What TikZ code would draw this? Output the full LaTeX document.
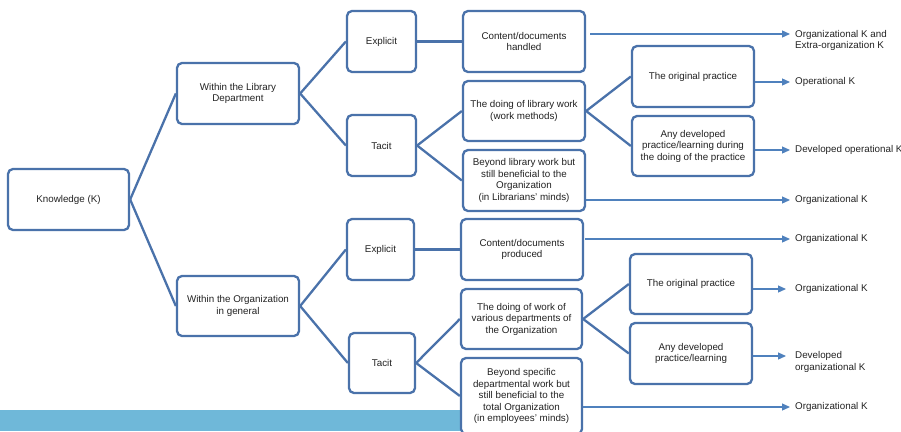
\documentclass[tikz,border=0pt]{standalone}
\usepackage{fontspec}
\setmainfont{Liberation Sans}
\usetikzlibrary{arrows.meta}
\definecolor{boxblue}{HTML}{4A72AA}
\definecolor{arrblue}{HTML}{4F81BD}
\definecolor{barblue}{HTML}{6FB8D9}
\definecolor{txt}{HTML}{222222}
\tikzset{
  kbox/.style={draw=boxblue, line width=2.3pt, rounded corners=5pt, fill=white,
    inner sep=0pt, align=center, text=txt, font=\fontsize{9.8}{11.5}\selectfont},
  link/.style={draw=boxblue, line width=2.3pt},
  arr/.style={draw=arrblue, line width=1.2pt, -{Triangle[length=8pt,width=7pt]}},
  outtxt/.style={anchor=west, inner sep=0pt, align=left, text=txt, font=\fontsize{9.8}{11.5}\selectfont}
}
\begin{document}
\begin{tikzpicture}[x=1pt,y=-1pt]
\useasboundingbox (0,0) rectangle (901,431);
\fill[barblue] (0,410) rectangle (470,431);

\node[kbox, minimum width=121pt, minimum height=61pt] (K) at (68.5,199.5) {Knowledge (K)};
\node[kbox, minimum width=122pt, minimum height=61pt] (L1) at (238,93.5) {Within the Library\\Department};
\node[kbox, minimum width=122pt, minimum height=60pt] (L2) at (238,306) {Within the Organization\\in general};
\node[kbox, minimum width=69pt, minimum height=61pt] (E1) at (381.5,41.5) {Explicit};
\node[kbox, minimum width=69pt, minimum height=61pt] (T1) at (381.5,145.5) {Tacit};
\node[kbox, minimum width=67pt, minimum height=61pt] (E2) at (380.5,249.5) {Explicit};
\node[kbox, minimum width=66pt, minimum height=60pt] (T2) at (382,363) {Tacit};
\node[kbox, minimum width=122pt, minimum height=61pt] (C1) at (524,41.5) {Content/documents\\handled};
\node[kbox, minimum width=122pt, minimum height=60pt] (D1) at (524,111) {The doing of library work\\(work methods)};
\node[kbox, minimum width=122pt, minimum height=61pt] (B1) at (524,180.5) {Beyond library work but\\still beneficial to the\\Organization\\(in Librarians’ minds)};
\node[kbox, minimum width=122pt, minimum height=61pt] (O1) at (693,76.5) {The original practice};
\node[kbox, minimum width=122pt, minimum height=60pt] (A1) at (693,146) {Any developed\\practice/learning during\\the doing of the practice};
\node[kbox, minimum width=122pt, minimum height=61pt] (C2) at (522,249.5) {Content/documents\\produced};
\node[kbox, minimum width=121pt, minimum height=60pt] (D2) at (521.5,319) {The doing of work of\\various departments of\\the Organization};
\node[kbox, minimum width=121pt, minimum height=76pt] (B2) at (521.5,396) {Beyond specific\\departmental work but\\still beneficial to the\\total Organization\\(in employees’ minds)};
\node[kbox, minimum width=122pt, minimum height=60pt] (O2) at (691,284) {The original practice};
\node[kbox, minimum width=122pt, minimum height=61pt] (A2) at (691,353.5) {Any developed\\practice/learning};

\draw[link] (K.east) -- (L1.west);
\draw[link] (K.east) -- (L2.west);
\draw[link] (L1.east) -- (E1.west);
\draw[link] (L1.east) -- (T1.west);
\draw[link] (L2.east) -- (E2.west);
\draw[link] (L2.east) -- (T2.west);
\draw[link] (E1.east) -- (C1.west);
\draw[link] (E2.east) -- (C2.west);
\draw[link] (T1.east) -- (D1.west);
\draw[link] (T1.east) -- (B1.west);
\draw[link] (T2.east) -- (D2.west);
\draw[link] (T2.east) -- (B2.west);
\draw[link] (D1.east) -- (O1.west);
\draw[link] (D1.east) -- (A1.west);
\draw[link] (D2.east) -- (O2.west);
\draw[link] (D2.east) -- (A2.west);

\node[outtxt] (t1) at (795,40.5) {Organizational K and\\Extra-organization K};
\node[outtxt] (t2) at (795,82) {Operational K};
\node[outtxt] (t3) at (795,150) {Developed operational K};
\node[outtxt] (t4) at (795,200) {Organizational K};
\node[outtxt] (t5) at (795,239) {Organizational K};
\node[outtxt] (t6) at (795,289) {Organizational K};
\node[outtxt] (t7) at (795,362) {Developed\\organizational K};
\node[outtxt] (t8) at (795,407) {Organizational K};

\coordinate (s1) at (590,34);
\coordinate (s2) at (O1.east |- 0,82);
\coordinate (s3) at (A1.east |- 0,150);
\coordinate (s4) at (586,200);
\coordinate (s5) at (585,239);
\coordinate (s6) at (O2.east |- 0,289);
\coordinate (s7) at (A2.east |- 0,356);
\coordinate (s8) at (583,407);

\draw[arr, shorten >=5pt] (s1) -- (s1 -| t1.west);
\draw[arr, shorten >=5pt] (s2) -- (s2 -| t2.west);
\draw[arr, shorten >=5pt] (s3) -- (s3 -| t3.west);
\draw[arr, shorten >=5pt] (s4) -- (s4 -| t4.west);
\draw[arr, shorten >=5pt] (s5) -- (s5 -| t5.west);
\draw[arr, shorten >=9pt] (s6) -- (s6 -| t6.west);
\draw[arr, shorten >=9pt] (s7) -- (s7 -| t7.west);
\draw[arr, shorten >=5pt] (s8) -- (s8 -| t8.west);
\end{tikzpicture}
\end{document}
